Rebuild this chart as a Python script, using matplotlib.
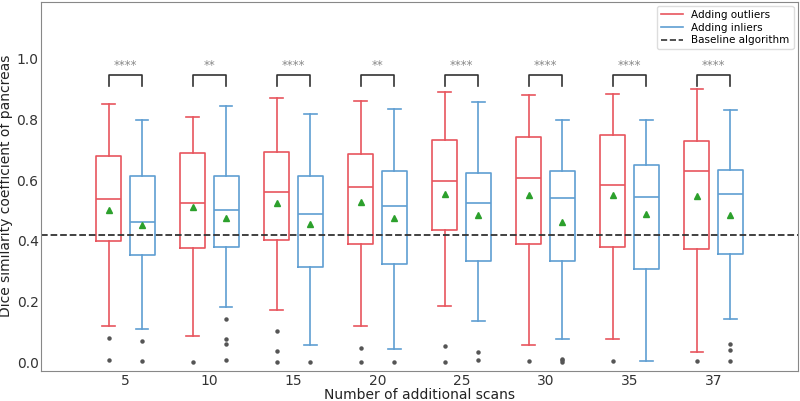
import matplotlib
matplotlib.use('Agg')
import matplotlib.pyplot as plt
from matplotlib.lines import Line2D

categories = ['5', '10', '15', '20', '25', '30', '35', '37']

# Adding outliers (red)
out_whislo = [0.121, 0.088, 0.171, 0.120, 0.184, 0.057, 0.077, 0.034]
out_q1 = [0.400, 0.377, 0.402, 0.391, 0.435, 0.391, 0.379, 0.373]
out_med = [0.538, 0.526, 0.560, 0.578, 0.598, 0.609, 0.584, 0.630]
out_q3 = [0.679, 0.689, 0.692, 0.686, 0.733, 0.742, 0.748, 0.731]
out_whishi = [0.853, 0.809, 0.871, 0.860, 0.890, 0.881, 0.885, 0.900]
out_mean = [0.503, 0.513, 0.525, 0.529, 0.555, 0.551, 0.551, 0.549]
out_fliers = [[0.079, 0.007], [0.002], [0.103, 0.038, 0.002], [0.047, 0.002],
              [0.053, 0.002], [0.004], [0.003], [0.003]]

# Adding inliers (blue)
in_whislo = [0.108, 0.181, 0.056, 0.043, 0.137, 0.077, 0.004, 0.144]
in_q1 = [0.352, 0.381, 0.313, 0.324, 0.335, 0.333, 0.308, 0.358]
in_med = [0.464, 0.502, 0.489, 0.516, 0.525, 0.540, 0.546, 0.556]
in_q3 = [0.614, 0.615, 0.614, 0.632, 0.625, 0.629, 0.652, 0.635]
in_whishi = [0.798, 0.845, 0.820, 0.835, 0.858, 0.798, 0.798, 0.832]
in_mean = [0.453, 0.477, 0.457, 0.474, 0.486, 0.464, 0.489, 0.487]
in_fliers = [[0.069, 0.003], [0.142, 0.076, 0.059, 0.007], [0.002], [0.002],
             [0.034, 0.007], [0.012, 0.006, 0.002], [], [0.060, 0.041, 0.003]]

significance = ['****', '**', '****', '**', '****', '****', '****', '****']
baseline = 0.42

RED = '#e8555e'
BLUE = '#5f9ed2'

fig = plt.figure(figsize=(8, 4.01), dpi=100)
ax = fig.add_axes([0.0516, 0.0756, 0.9455, 0.9202])


def make_stats(wl, q1, med, q3, wh, mean, fl):
    return [dict(whislo=a, q1=b, med=c, q3=d, whishi=e, mean=f, fliers=g)
            for a, b, c, d, e, f, g in zip(wl, q1, med, q3, wh, mean, fl)]


def draw(stats, positions, color):
    lp = dict(color=color, linewidth=1.2)
    ax.bxp(stats, positions=positions, widths=0.3, showmeans=True,
           boxprops=lp, whiskerprops=lp, capprops=lp, medianprops=lp,
           meanprops=dict(marker='^', markerfacecolor='#2ca02c', markeredgecolor='#2ca02c',
                          markersize=4.5),
           flierprops=dict(marker='o', markersize=2.2, markerfacecolor='#555555',
                           markeredgecolor='#555555'),
           manage_ticks=False)


n = len(categories)
pos = list(range(n))
draw(make_stats(out_whislo, out_q1, out_med, out_q3, out_whishi, out_mean, out_fliers),
     [p - 0.2 for p in pos], RED)
draw(make_stats(in_whislo, in_q1, in_med, in_q3, in_whishi, in_mean, in_fliers),
     [p + 0.2 for p in pos], BLUE)

ax.axhline(baseline, color='#333333', linestyle='--', linewidth=1.3)

# significance brackets
for p, s in zip(pos, significance):
    x1, x2 = p - 0.2, p + 0.2
    ax.plot([x1, x1, x2, x2], [0.910, 0.948, 0.948, 0.910], color='#333333', linewidth=1.2)
    ax.text(p, 0.977, s, ha='center', va='center', fontsize=8.5, color='#888888')

ax.set_xlim(-1, 8)
ax.set_ylim(-0.028, 1.189)
ax.set_xticks(pos)
ax.set_xticklabels(categories)
ax.set_yticks([0.0, 0.2, 0.4, 0.6, 0.8, 1.0])
ax.tick_params(labelsize=10, colors='#333333', length=0)
ax.tick_params(axis='x', pad=2.5)
ax.tick_params(axis='y', pad=2)
for sp in ax.spines.values():
    sp.set_color('#888888')

ax.set_xlabel('Number of additional scans', fontsize=10, color='#222222', labelpad=0)
ax.set_ylabel('Dice similarity coefficient of pancreas', fontsize=10, color='#222222', labelpad=2.5)

handles = [Line2D([], [], color=RED, linewidth=1.2),
           Line2D([], [], color=BLUE, linewidth=1.2),
           Line2D([], [], color='#333333', linestyle='--', linewidth=1.2)]
ax.legend(handles, ['Adding outliers', 'Adding inliers', 'Baseline algorithm'],
          loc='upper right', fontsize=7.5, handlelength=2.1, borderpad=0.4,
          labelspacing=0.25, borderaxespad=0.4, framealpha=1, edgecolor='#dddddd')

fig.savefig('out.png', dpi=100)
